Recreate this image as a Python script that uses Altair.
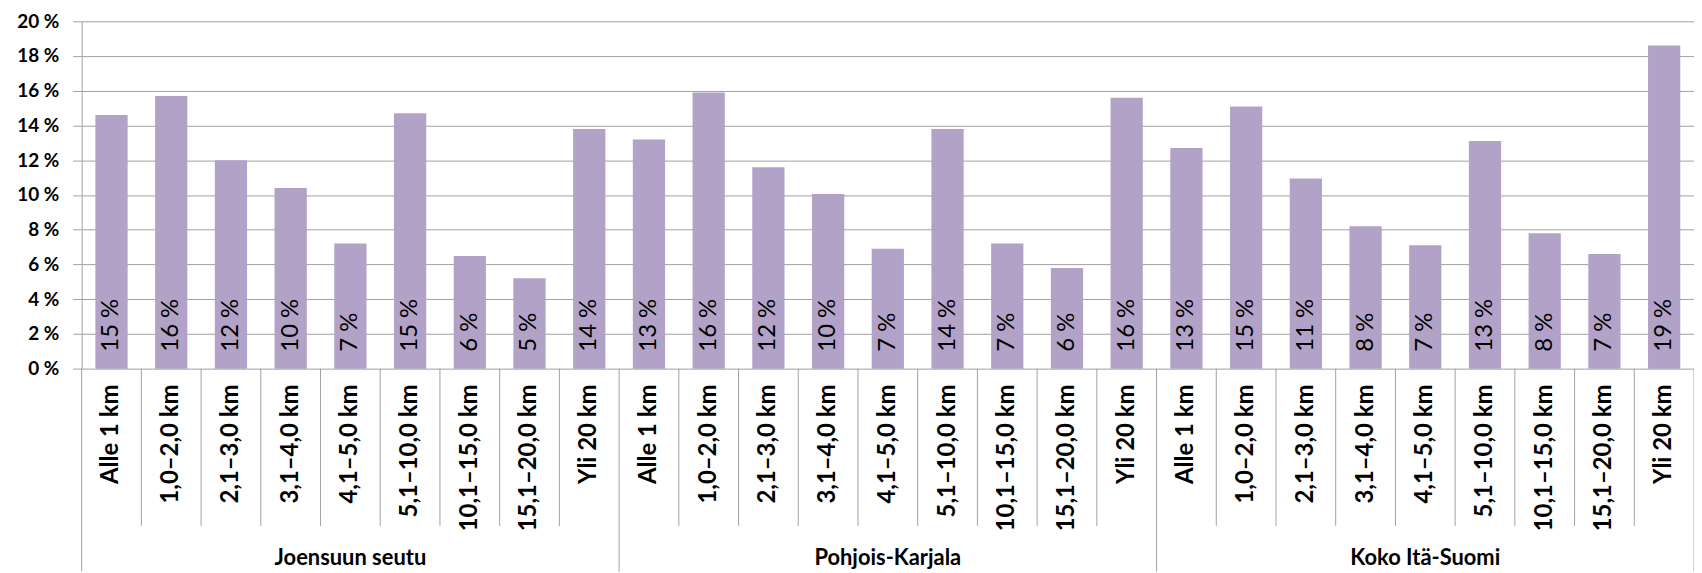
import altair as alt
import pandas as pd

groups = ["Joensuun seutu", "Pohjois-Karjala", "Koko Itä-Suomi"]
categories = ["Alle 1 km", "1,0–2,0 km", "2,1–3,0 km", "3,1–4,0 km", "4,1–5,0 km",
              "5,1–10,0 km", "10,1–15,0 km", "15,1–20,0 km", "Yli 20 km"]
joensuu = [14.6, 15.7, 12.0, 10.4, 7.2, 14.7, 6.49, 5.2, 13.8]
pohjois = [13.2, 15.9, 11.6, 10.05, 6.9, 13.8, 7.2, 5.8, 15.6]
ita_suomi = [12.7, 15.1, 10.95, 8.2, 7.1, 13.1, 7.8, 6.6, 18.6]
y_ticks = [0, 2, 4, 6, 8, 10, 12, 14, 16, 18, 20]

series = [joensuu, pohjois, ita_suomi]
rows = []
for gi, g in enumerate(groups):
    for ci, c in enumerate(categories):
        v = series[gi][ci]
        rows.append({
            "key": f"{gi}-{ci}",
            "group": g,
            "cat": c,
            "value": v,
            "label": f"{round(v)} %",
            "gstart": ci == 0,
            "gmid": ci == 4,
            "gend": gi == len(groups) - 1 and ci == len(categories) - 1,
        })
df = pd.DataFrame(rows)
keys = list(df["key"])

W, H = 1620, 349
BOTTOM = 204
GRAY = "#a0a0a0"
FONT = "Lato"

xscale = alt.Scale(domain=keys, paddingInner=0, paddingOuter=0)
base = alt.Chart(df)

bars = base.mark_bar(color="#B3A2C7", width=alt.RelativeBandSize(0.54)).encode(
    x=alt.X("key:N", scale=xscale, axis=None, sort=keys),
    y=alt.Y("value:Q", scale=alt.Scale(domain=[0, 20], nice=False),
            axis=alt.Axis(values=y_ticks, tickCount=30, labelExpr="datum.value + ' %'", title=None,
                          grid=True, gridColor=GRAY, gridWidth=1,
                          domainColor=GRAY, domainWidth=1,
                          tickColor=GRAY, tickSize=9, tickWidth=1,
                          labelOverlap=False, labelBound=False,
                          labelPadding=14, labelFont=FONT, labelFontWeight="bold",
                          labelFontSize=19, labelColor="black")),
)

value_labels = base.mark_text(angle=270, align="left", baseline="middle", dx=17,
                              font=FONT, fontSize=24, color="black").encode(
    x=alt.X("key:N", scale=xscale, sort=keys),
    y=alt.datum(0),
    text="label:N",
)

cat_labels = base.mark_text(angle=270, align="right", baseline="middle", dx=-16,
                            font=FONT, fontSize=24, fontWeight="bold", color="black").encode(
    x=alt.X("key:N", scale=xscale, sort=keys),
    y=alt.datum(0),
    text="cat:N",
)

cat_sep = base.transform_filter("!datum.gstart").mark_rule(color=GRAY, strokeWidth=1).encode(
    x=alt.X("key:N", scale=xscale, sort=keys, bandPosition=0),
    y=alt.value(H),
    y2=alt.value(H + 158),
)

grp_sep = base.transform_filter("datum.gstart").mark_rule(color=GRAY, strokeWidth=1).encode(
    x=alt.X("key:N", scale=xscale, sort=keys, bandPosition=0),
    y=alt.value(H),
    y2=alt.value(H + BOTTOM),
)

grp_end = base.transform_filter("datum.gend").mark_rule(color=GRAY, strokeWidth=1).encode(
    x=alt.X("key:N", scale=xscale, sort=keys, bandPosition=1),
    y=alt.value(H),
    y2=alt.value(H + BOTTOM),
)

grp_labels = base.transform_filter("datum.gmid").mark_text(
    align="center", baseline="alphabetic", font=FONT, fontSize=22, fontWeight="bold",
    color="black").encode(
    x=alt.X("key:N", scale=xscale, sort=keys),
    y=alt.value(H + 197),
    text="group:N",
)

chart = alt.layer(bars, value_labels, cat_labels, cat_sep, grp_sep, grp_end, grp_labels).properties(
    width=W, height=H,
    autosize=alt.AutoSizeParams(type="none"),
    padding={"left": 74, "top": 12, "right": 0, "bottom": BOTTOM},
).configure_view(stroke=None)

chart.save("out.html", embed_options={"renderer": "svg", "actions": False})
